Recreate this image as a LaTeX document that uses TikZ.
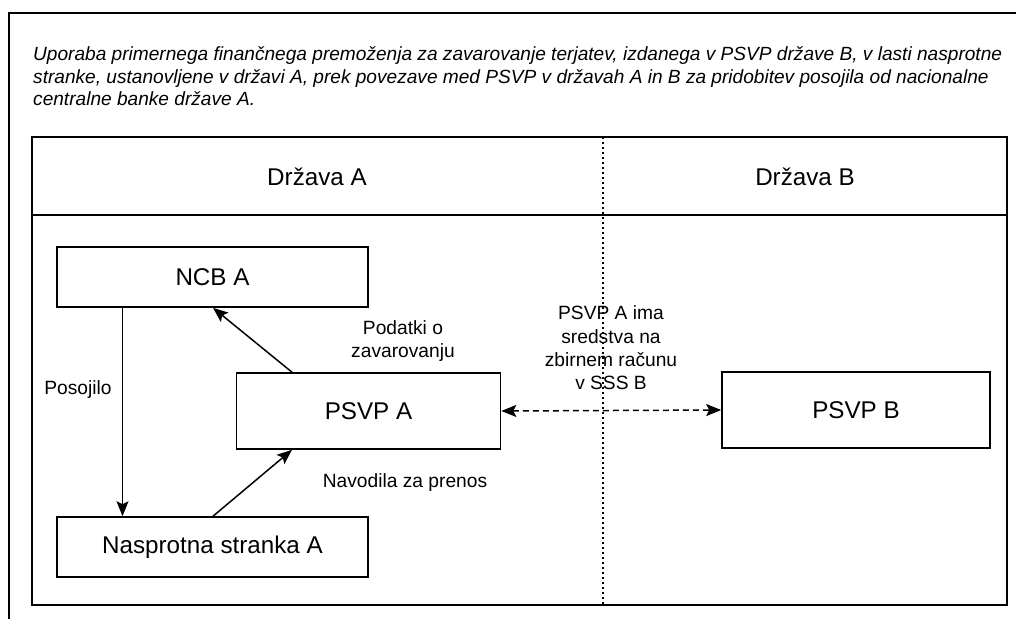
\documentclass[tikz,border=0pt]{standalone}
\usepackage{fontspec}
\setmainfont{Liberation Sans}
\usetikzlibrary{arrows.meta}
\begin{document}
\begin{tikzpicture}[x=1pt,y=-1pt,
  frame/.style={draw=black,line width=2pt},
  box/.style={draw=black,line width=1.6pt,fill=white},
  big/.style={font=\fontsize{24.2}{28}\selectfont},
  lbl/.style={font=\fontsize{19.2}{23.3}\selectfont,align=center,inner sep=0pt},
  tip/.tip={Stealth[length=15pt,width=12pt,inset=3pt]},
  arr/.style={line width=1.5pt,-tip},
  darr/.style={line width=1.5pt,dash pattern=on 6pt off 4pt,tip-tip}]
\useasboundingbox (0,0) rectangle (1016,619);
\fill[white] (0,0) rectangle (1016,619);
% outer frame (clipped at right and bottom)
\coordinate (ofTL) at (9,13);
\coordinate (ofTR) at (1016,13);
\coordinate (ofBL) at (9,619);
\draw[frame] (ofTR) -- (ofTL) -- (ofBL);
% title
\node[anchor=base west,align=left,inner sep=0pt,font=\itshape\fontsize{19.1}{22.5}\selectfont] (title) at (33,105.5)
 {Uporaba primernega finančnega premoženja za zavarovanje terjatev, izdanega v PSVP države B, v lasti nasprotne\\
  stranke, ustanovljene v državi A, prek povezave med PSVP v državah A in B za pridobitev posojila od nacionalne\\
  centralne banke države A.};
% table
\draw[frame] (32,137) rectangle (1007,605);
\coordinate (hl) at (32,215);
\coordinate (hr) at (1007,215);
\draw[frame] (hl) -- (hr);
\coordinate (dtop) at (603,137);
\coordinate (dbot) at (603,605);
\draw[line width=1.5pt,dash pattern=on 1.5pt off 3.5pt] (dtop) -- (dbot);
\node[big] (hA) at (317,177) {Država A};
\node[big] (hB) at (805,177) {Država B};
% boxes
\node[box,big,minimum width=311pt,minimum height=60pt] (ncb) at (212.5,277) {NCB A};
\node[box,big,minimum width=264pt,minimum height=76pt] (psvpa) at (368.5,411) {PSVP A};
\node[box,big,minimum width=311pt,minimum height=60pt] (nas) at (212.5,547) {Nasprotna stranka A};
\node[box,big,minimum width=268pt,minimum height=76pt] (psvpb) at (856,410) {PSVP B};
% arrows
\draw[arr] (ncb.south -| 122.5,0) -- (nas.north -| 122.5,0);
\draw[arr] (psvpa.north -| 292,0) -- (ncb.south -| 213,0);
\draw[arr] (nas.north -| 213,0) -- (psvpa.south -| 292,0);
\draw[darr] (psvpa.east) -- (psvpb.west);
% labels
\node[lbl] (lpos) at (78,390) {Posojilo};
\node[lbl] (lpod) at (403,341) {Podatki o\\zavarovanju};
\node[lbl] (lnav) at (405,483) {Navodila za prenos};
\node[lbl] (lsss) at (611,348) {PSVP A ima\\sredstva na\\zbirnem računu\\v SSS B};
\end{tikzpicture}
\end{document}
